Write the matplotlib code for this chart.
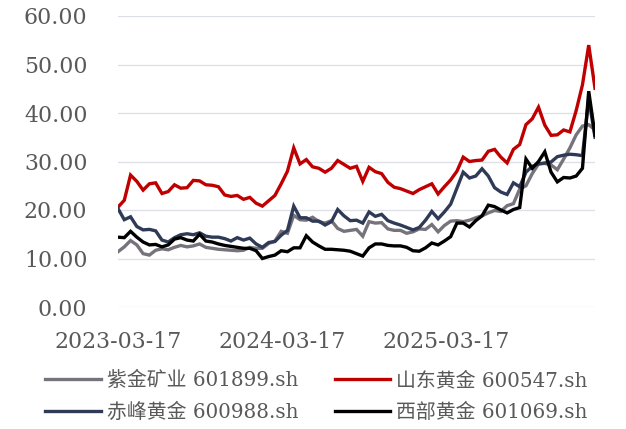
import numpy as np
import pandas as pd
import matplotlib
matplotlib.use("Agg")
import matplotlib.pyplot as plt
import matplotlib.dates as mdates
from matplotlib.ticker import FormatStrFormatter

plt.rcParams['font.family'] = ['DejaVu Serif', 'Noto Sans CJK SC']

# biweekly closes, starting 2023-03-17
dates = pd.date_range('2023-03-17', periods=77, freq='14D')

zijin = [11.4, 12.4, 13.7, 12.8, 11.0, 10.7, 11.7, 12.0, 11.8, 12.3,
         12.7, 12.4, 12.6, 13.0, 12.3, 12.1, 11.9, 11.8, 11.7, 11.6,
         11.7, 12.3, 12.1, 12.1, 13.1, 13.6, 15.6, 15.2, 18.9, 18.0,
         17.9, 18.5, 17.6, 17.3, 17.8, 16.2, 15.6, 15.8, 16.0, 14.6,
         17.6, 17.3, 17.4, 16.1, 15.8, 15.8, 15.2, 15.5, 16.1, 16.0,
         17.0, 15.5, 16.8, 17.7, 17.8, 17.6, 17.9, 18.4, 18.8, 19.4,
         19.9, 19.7, 20.9, 21.3, 24.3, 25.0, 27.5, 29.5, 29.6, 29.3,
         28.3, 30.5, 32.8, 35.5, 37.3, 37.6, 36.5]

shandong = [20.6, 22.0, 27.2, 25.9, 24.1, 25.4, 25.6, 23.4, 23.8, 25.2,
            24.5, 24.6, 26.1, 26.0, 25.2, 25.1, 24.8, 23.1, 22.8, 23.0,
            22.2, 22.6, 21.4, 20.8, 21.9, 23.0, 25.4, 28.0, 32.8, 29.5,
            30.4, 28.9, 28.6, 27.8, 28.6, 30.2, 29.4, 28.6, 29.0, 25.9,
            28.8, 27.9, 27.5, 25.7, 24.7, 24.4, 23.9, 23.4, 24.2, 24.8,
            25.4, 23.3, 24.8, 26.2, 28.0, 30.9, 30.0, 30.2, 30.3, 32.1,
            32.5, 30.9, 29.7, 32.5, 33.5, 37.6, 38.8, 41.2, 37.5, 35.4,
            35.5, 36.5, 36.1, 40.5, 45.8, 54.0, 45.1]

chifeng = [20.3, 18.0, 18.6, 16.6, 15.9, 16.0, 15.7, 13.8, 13.4, 14.3,
           14.9, 15.1, 14.9, 15.3, 14.6, 14.4, 14.4, 14.1, 13.6, 14.3,
           13.8, 14.2, 13.0, 12.3, 13.3, 13.5, 14.8, 15.8, 20.8, 18.4,
           18.4, 17.7, 17.7, 16.9, 17.6, 20.1, 18.8, 17.8, 17.9, 17.3,
           19.6, 18.7, 19.1, 17.8, 17.3, 16.9, 16.4, 15.9, 16.4, 17.9,
           19.7, 18.2, 19.6, 21.2, 24.5, 27.8, 26.6, 27.0, 28.5, 27.0,
           24.6, 23.7, 23.2, 25.6, 24.8, 27.8, 29.0, 29.5, 29.7, 29.9,
           31.0, 31.3, 31.5, 31.4, 31.2, 43.0, 35.0]

xibu = [14.4, 14.3, 15.6, 14.4, 13.4, 12.8, 12.9, 12.4, 12.8, 14.0,
        14.3, 13.8, 13.6, 15.0, 13.6, 13.4, 13.0, 12.7, 12.5, 12.3,
        12.1, 12.1, 11.6, 10.0, 10.4, 10.7, 11.6, 11.4, 12.2, 12.2,
        14.7, 13.4, 12.6, 11.9, 11.9, 11.8, 11.7, 11.5, 11.0, 10.5,
        12.2, 13.0, 13.0, 12.7, 12.6, 12.6, 12.3, 11.6, 11.5, 12.2,
        13.2, 12.8, 13.6, 14.5, 17.3, 17.3, 16.5, 17.8, 18.8, 21.0,
        20.7, 20.0, 19.4, 20.1, 20.5, 30.5, 28.6, 30.0, 32.0, 27.8,
        25.8, 26.7, 26.6, 27.0, 28.6, 44.5, 35.4]

names = ['紫金矿业 601899.sh', '山东黄金 600547.sh', '赤峰黄金 600988.sh', '西部黄金 601069.sh']
colors = ['#77737c', '#c00000', '#2f3b56', '#000000']
tick_dates = ['2023-03-17', '2024-03-17', '2025-03-17']

fig = plt.figure(figsize=(6.26, 4.29), dpi=100)
W, H = 626, 429
ax = fig.add_axes([118 / W, 1 - 307 / H, (595 - 118) / W, (307 - 16) / H])

lines = []
for vals, name, c in zip([zijin, shandong, chifeng, xibu], names, colors):
    ln, = ax.plot(dates, vals, color=c, lw=2.4, label=name, solid_joinstyle='miter')
    lines.append(ln)

ax.set_ylim(0, 60)
ax.set_yticks(np.arange(0, 61, 10))
ax.yaxis.set_major_formatter(FormatStrFormatter('%.2f'))
ax.set_xlim(dates[0], dates[-1])
ax.set_xticks(pd.to_datetime(tick_dates))
ax.xaxis.set_major_formatter(mdates.DateFormatter('%Y-%m-%d'))

ax.grid(axis='y', color='#dcdfe5', lw=0.9)
ax.set_axisbelow(True)
for s in ax.spines.values():
    s.set_visible(False)
ax.tick_params(axis='both', length=0, colors='#595959', labelsize=15.8)
ax.tick_params(axis='y', pad=22)
ax.tick_params(axis='x', pad=17)

order = [0, 2, 1, 3]
fig.legend([lines[i] for i in order], [names[i] for i in order],
           loc='upper left', bbox_to_anchor=(45 / W, 1 - 371 / H),
           ncol=2, frameon=False, fontsize=14.3, labelcolor='#595959',
           handlelength=2.8, handletextpad=0.3, columnspacing=1.85,
           labelspacing=0.62, borderpad=0, borderaxespad=0)

fig.savefig('out.png', dpi=100)
